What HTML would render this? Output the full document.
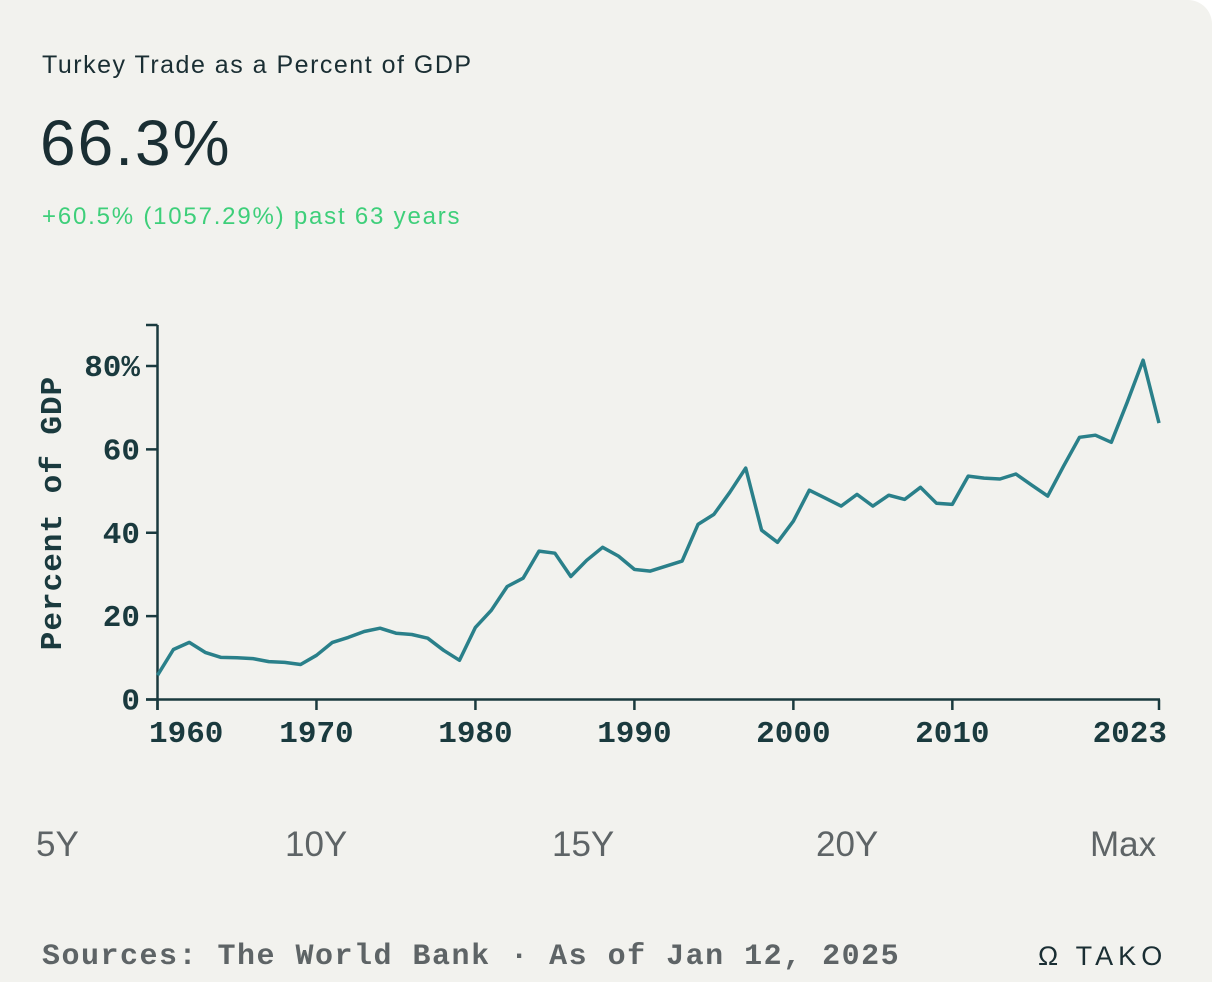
<!DOCTYPE html>
<html><head><meta charset="utf-8"><style>
body{margin:0;width:1216px;height:982px;background:#fff;overflow:hidden;font-family:"Liberation Sans",sans-serif}
#card{position:absolute;left:0;top:0;width:1212px;height:982px;background:#f2f2ee;border-top-right-radius:24px}
.t{position:absolute;white-space:nowrap}
</style></head><body>
<div id="card">
<div class="t" style="left:42px;top:51px;font-size:25px;letter-spacing:1.5px;color:#1a2e33">Turkey Trade as a Percent of GDP</div>
<div class="t" style="left:40px;top:106px;font-size:64px;letter-spacing:2px;color:#1a2e33">66.3%</div>
<div class="t" style="left:42px;top:203px;font-size:24px;letter-spacing:1.8px;color:#3ecf7a">+60.5% (1057.29%) past 63 years</div>
<svg id="chart" width="1216" height="800" style="position:absolute;left:0;top:0"></svg>
<div class="t" style="left:36px;top:825px;font-size:35px;color:#5e6466">5Y</div>
<div class="t" style="left:285px;top:825px;font-size:35px;color:#5e6466">10Y</div>
<div class="t" style="left:552px;top:825px;font-size:35px;color:#5e6466">15Y</div>
<div class="t" style="left:816px;top:825px;font-size:35px;color:#5e6466">20Y</div>
<div class="t" style="left:1090px;top:825px;font-size:35px;color:#5e6466">Max</div>
<div class="t" style="left:42px;top:940px;font-family:'Liberation Mono',monospace;font-weight:bold;font-size:30px;letter-spacing:1.5px;color:#5e6466">Sources: The World Bank · As of Jan 12, 2025</div>
<div class="t" style="left:1038px;top:941px;font-size:27px;color:#1a2e33;letter-spacing:5px">Ω TAKO</div>
</div>
<script>
const years=[];for(let y=1960;y<=2023;y++)years.push(y);
const values=[5.8,12,13.7,11.3,10.1,10,9.8,9.1,8.9,8.4,10.6,13.7,14.9,16.3,17.1,15.9,15.6,14.7,11.8,9.4,17.3,21.4,27.1,29.1,35.6,35.1,29.5,33.4,36.5,34.4,31.2,30.8,32,33.2,42,44.4,49.7,55.5,40.6,37.7,42.8,50.2,48.3,46.4,49.2,46.4,49,48,50.9,47.1,46.8,53.6,53.1,52.9,54.1,51.4,48.8,56,62.9,63.4,61.7,71.3,81.4,66.3];
const yTicks=[0,20,40,60,80];
const yTickLabels=["0","20","40","60","80%"];
const xTicks=[1960,1970,1980,1990,2000,2010,2023];
const NS="http://www.w3.org/2000/svg",svg=document.getElementById('chart');
const x=v=>157.5+(v-1960)*(1159-157.5)/63;
const y=v=>699.5-v*(699.5-366)/80;
function mk(t,a){const e=document.createElementNS(NS,t);for(const k in a)e.setAttribute(k,a[k]);svg.appendChild(e);return e;}
const C="#1a3a3e";
let e=mk('line',{x1:157.5,y1:325,x2:157.5,y2:710,stroke:C,'stroke-width':2.5});

e=mk('line',{x1:146,y1:699.5,x2:1160,y2:699.5,stroke:C,'stroke-width':2.5});

mk('line',{x1:146,y1:325,x2:157.5,y2:325,stroke:C,'stroke-width':2.5});
yTicks.forEach((v,i)=>{
 mk('line',{x1:146,y1:y(v),x2:157.5,y2:y(v),stroke:C,'stroke-width':2.5});
 const t=mk('text',{x:140,y:y(v)+10,'text-anchor':'end','font-family':'Liberation Mono,monospace','font-weight':'bold','font-size':31,fill:C});
 t.textContent=yTickLabels[i];
 
 
});
xTicks.forEach((v,i)=>{
 mk('line',{x1:x(v),y1:699.5,x2:x(v),y2:710,stroke:C,'stroke-width':2.5});
 let px=x(v),anc='middle';
 if(i===0){px=149;anc='start';}
 if(i===xTicks.length-1){px=1167;anc='end';}
 const t=mk('text',{x:px,y:742,'text-anchor':anc,'font-family':'Liberation Mono,monospace','font-weight':'bold','font-size':31,fill:C});
 t.textContent=v;
 
 
});
const yt=mk('text',{transform:'translate(61,513) rotate(-90)','text-anchor':'middle','font-family':'Liberation Mono,monospace','font-weight':'bold','font-size':31,'letter-spacing':1,fill:C});
yt.textContent='Percent of GDP';


const p=mk('path',{d:values.map((v,i)=>(i?'L':'M')+x(years[i]).toFixed(1)+','+y(v).toFixed(1)).join(''),fill:'none',stroke:'#2a808a','stroke-width':3.5,'stroke-linejoin':'round'});


</script>
</body></html>
